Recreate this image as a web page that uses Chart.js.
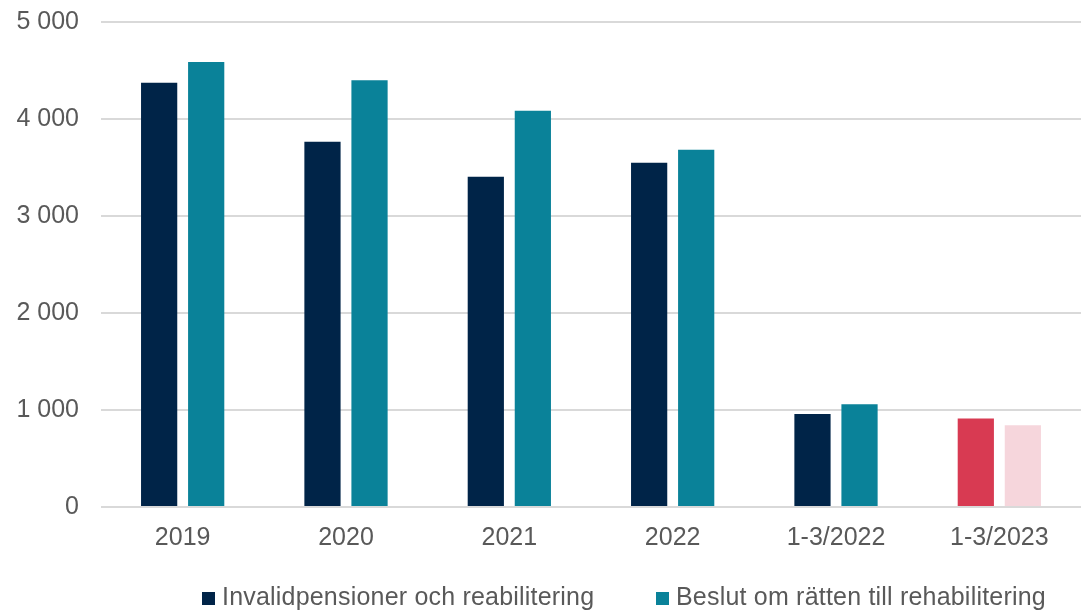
<!DOCTYPE html>
<html>
<head>
<meta charset="utf-8">
<script src="https://cdn.jsdelivr.net/npm/chart.js@4"></script>
<style>
    html, body { margin: 0; padding: 0; background: #fff; }
    .chart-container { width: 1081px; height: 611px; position: relative; }
    .legend { position: absolute; top: 582px; left: 0; width: 1081px; height: 29px;
              font-family: 'Liberation Sans', Arial, sans-serif; font-size: 25px; color: #595959; letter-spacing: 0.2px; }
    .legend-item { position: absolute; top: 0; white-space: nowrap; line-height: 29px; }
    .legend-item span { display: inline-block; width: 13px; height: 13px; margin-right: 7px; vertical-align: 0px; }
</style>
</head>
<body>
<div class="chart-container">
    <canvas id="chart"></canvas>
    <div class="legend" id="legend"></div>
</div>
<script>
const categories = ['2019', '2020', '2021', '2022', '1-3/2022', '1-3/2023'];
const invalidpensioner = [4375, 3765, 3405, 3550, 958, 912];
const rehabilitering = [4588, 4400, 4085, 3683, 1060, 843];
const yTicks = [0, 1000, 2000, 3000, 4000, 5000];
const seriesNames = ['Invalidpensioner och reabilitering', 'Beslut om rätten till rehabilitering'];

const navy = '#002448', teal = '#0a8299';
const red = '#d83a52', pink = '#f6d6dc';

// legend as html, the canvas one can't be placed like the original
const legendPos = [202, 656];
document.getElementById('legend').innerHTML = seriesNames.map((name, i) =>
    `<div class="legend-item" style="left:${legendPos[i]}px"><span style="background:${i === 0 ? navy : teal}"></span>${name}</div>`
).join('');

var ctx = document.getElementById('chart').getContext('2d');
new Chart(ctx, {
    type: 'bar',
    data: {
        labels: categories,
        datasets: [{
            label: seriesNames[0],
            data: invalidpensioner,
            backgroundColor: categories.map((c, i) => i === 5 ? red : navy)
        }, {
            label: seriesNames[1],
            data: rehabilitering,
            backgroundColor: categories.map((c, i) => i === 5 ? pink : teal)
        }]
    },
    options: {
        responsive: true,
        maintainAspectRatio: false,
        animation: false,
        layout: { padding: { left: 0, right: 0, top: 0, bottom: 50 } },
        datasets: { bar: { categoryPercentage: 0.576, barPercentage: 0.77 } },
        scales: {
            x: {
                grid: { display: false },
                border: { display: false },
                ticks: { color: '#595959', font: { family: 'Liberation Sans', size: 25 }, padding: 8 }
            },
            y: {
                min: 0, max: 5000,
                afterBuildTicks: axis => { axis.ticks = yTicks.map(v => ({ value: v })); },
                afterFit: axis => {
                    axis.width = 101;
                    axis.paddingTop = 22;
                    axis.paddingBottom = 0;
                },
                grid: { color: '#d9d9d9', lineWidth: 2, drawTicks: false },
                border: { display: false },
                ticks: {
                    color: '#595959', font: { family: 'Liberation Sans', size: 25 }, padding: 22,
                    callback: v => v.toLocaleString('en-US').replace(',', ' ')
                }
            }
        },
        plugins: {
            legend: { display: false },
            tooltip: { enabled: false }
        }
    }
});
</script>
</body>
</html>
